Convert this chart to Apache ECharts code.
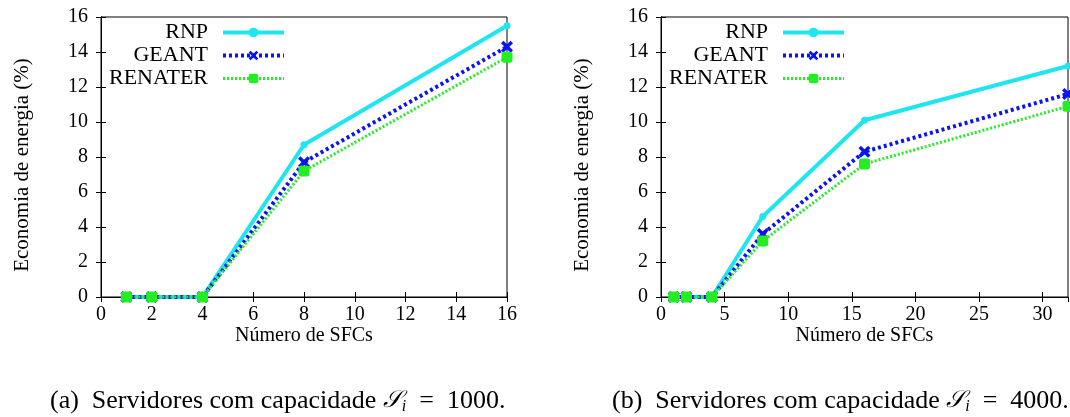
<!DOCTYPE html>
<html>
<head>
<meta charset="utf-8">
<script src="https://cdn.jsdelivr.net/npm/echarts@6/dist/echarts.min.js"></script>
<style>
  html, body { margin: 0; padding: 0; background: #fff; }
  #box { width: 1070px; height: 417px; }
</style>
</head>
<body>
<div id="box"></div>
<script>
// dados
var sfcsA = [1, 2, 4, 8, 16];
var rnpA = [0, 0, 0, 8.7, 15.5];
var geantA = [0, 0, 0, 7.7, 14.3];
var renaterA = [0, 0, 0, 7.2, 13.7];

var sfcsB = [1, 2, 4, 8, 16, 32];
var rnpB = [0, 0, 0, 4.6, 10.1, 13.2];
var geantB = [0, 0, 0, 3.6, 8.3, 11.6];
var renaterB = [0, 0, 0, 3.2, 7.6, 10.9];

var yTicks = [0, 2, 4, 6, 8, 10, 12, 14, 16];

var FONT = 'Liberation Serif';
var crossPath = 'path://M2,0L5,3L8,0L10,2L7,5L10,8L8,10L5,7L2,10L0,8L3,5L0,2Z';
var CYAN = '#1ee6f0', BLUE = '#0a14f0', GREEN = '#22ee22';

var chart = echarts.init(document.getElementById('box'));

function pairs(xs, ys) {
    return xs.map(function (x, i) { return [x, ys[i]]; });
}

function mkSeries(idx, xs, rnp, geant, renater) {
    return [
        {
            name: 'RNP', type: 'line', xAxisIndex: idx * 2, yAxisIndex: idx * 2,
            data: pairs(xs, rnp), color: CYAN,
            lineStyle: { width: 4, color: CYAN },
            symbol: 'circle', symbolSize: 7, z: 3,
            itemStyle: { color: CYAN }
        },
        {
            name: 'GEANT', type: 'line', xAxisIndex: idx * 2, yAxisIndex: idx * 2,
            data: pairs(xs, geant), color: BLUE,
            lineStyle: { width: 4, type: [3, 3], color: BLUE },
            symbol: crossPath, symbolSize: 12, z: 4,
            itemStyle: { color: BLUE }
        },
        {
            name: 'RENATER', type: 'line', xAxisIndex: idx * 2, yAxisIndex: idx * 2,
            data: pairs(xs, renater), color: GREEN,
            lineStyle: { width: 3, type: [2, 2], color: GREEN },
            symbol: 'roundRect', symbolSize: 11, z: 5,
            itemStyle: { color: GREEN }
        }
    ];
}

function xAxes(gi, max, interval) {
    return [
        {
            gridIndex: gi, type: 'value', min: 0, max: max, interval: interval,
            name: 'Número de SFCs', nameLocation: 'middle', nameGap: 29, nameMoveOverlap: false,
            nameTextStyle: { fontFamily: FONT, fontSize: 20, color: '#000' },
            axisLine: { lineStyle: { color: '#000', width: 1 } },
            axisTick: { inside: true, length: 5, lineStyle: { color: '#000' } },
            axisLabel: { fontFamily: FONT, fontSize: 20, color: '#000', margin: 8, showMaxLabel: max % interval === 0 },
            splitLine: { show: false }
        },
        {
            gridIndex: gi, type: 'value', min: 0, max: max, interval: interval, position: 'top',
            axisLine: { lineStyle: { color: '#000', width: 1 } },
            axisTick: { inside: true, length: 5, lineStyle: { color: '#000' } },
            axisLabel: { show: false }, splitLine: { show: false }
        }
    ];
}

function yAxes(gi) {
    return [
        {
            gridIndex: gi, type: 'value', min: yTicks[0], max: yTicks[yTicks.length - 1], interval: 2,
            name: 'Economia de energia (%)', nameLocation: 'middle', nameGap: 68, nameMoveOverlap: false,
            nameTextStyle: { fontFamily: FONT, fontSize: 21, color: '#000', padding: [0, 16, 0, 0] },
            axisLine: { show: true, lineStyle: { color: '#000', width: 1 } },
            axisTick: { show: true, inside: true, length: 5, lineStyle: { color: '#000' } },
            axisLabel: { fontFamily: FONT, fontSize: 20, color: '#000', margin: 13 },
            splitLine: { show: false }
        },
        {
            gridIndex: gi, type: 'value', min: yTicks[0], max: yTicks[yTicks.length - 1], interval: 2, position: 'right',
            axisLine: { show: true, lineStyle: { color: '#000', width: 1 } },
            axisTick: { show: true, inside: true, length: 5, lineStyle: { color: '#000' } },
            axisLabel: { show: false }, splitLine: { show: false }
        }
    ];
}

function mkLegend(left) {
    return {
        orient: 'vertical', left: left, top: 21, padding: 0, itemGap: 0,
        align: 'right', itemWidth: 61, itemHeight: 12,
        data: [
            { name: 'RNP', lineStyle: { width: 4 } },
            { name: 'GEANT', lineStyle: { width: 4 } },
            { name: 'RENATER', lineStyle: { width: 3 } }
        ],
        selectedMode: false,
        textStyle: {
            fontFamily: FONT, fontSize: 22, color: '#000', width: 104, align: 'right',
            lineHeight: 23, padding: [0, 10, 0, 0]
        }
    };
}

function caption(cx, tag, val) {
    return {
        type: 'text', left: cx, top: 388,
        style: {
            text: '{n|' + tag + '  Servidores com capacidade }{s|𝒮}{sub|i}{n|  =  ' + val + '.}',
            rich: {
                n: { fontFamily: FONT, fontSize: 26, fill: '#000' },
                s: { fontFamily: 'DejaVu Serif', fontSize: 24, fill: '#000', fontStyle: 'italic' },
                sub: { fontFamily: FONT, fontSize: 16, fill: '#000', fontStyle: 'italic', verticalAlign: 'bottom', padding: [12, 0, 0, 0] }
            }
        }
    };
}

var option = {
    animation: false,
    backgroundColor: '#fff',
    grid: [
        { left: 101, top: 17, width: 406, height: 280, show: true, borderColor: '#000', borderWidth: 1 },
        { left: 661, top: 17, width: 407, height: 280, show: true, borderColor: '#000', borderWidth: 1 }
    ],
    legend: [mkLegend(104), mkLegend(664)],
    xAxis: xAxes(0, 16, 2).concat(xAxes(1, 32, 5)),
    yAxis: yAxes(0).concat(yAxes(1)),
    series: mkSeries(0, sfcsA, rnpA, geantA, renaterA).concat(mkSeries(1, sfcsB, rnpB, geantB, renaterB)),
    graphic: [caption(50, '(a)', '1000'), caption(612, '(b)', '4000')]
};

chart.setOption(option);
</script>
</body>
</html>
